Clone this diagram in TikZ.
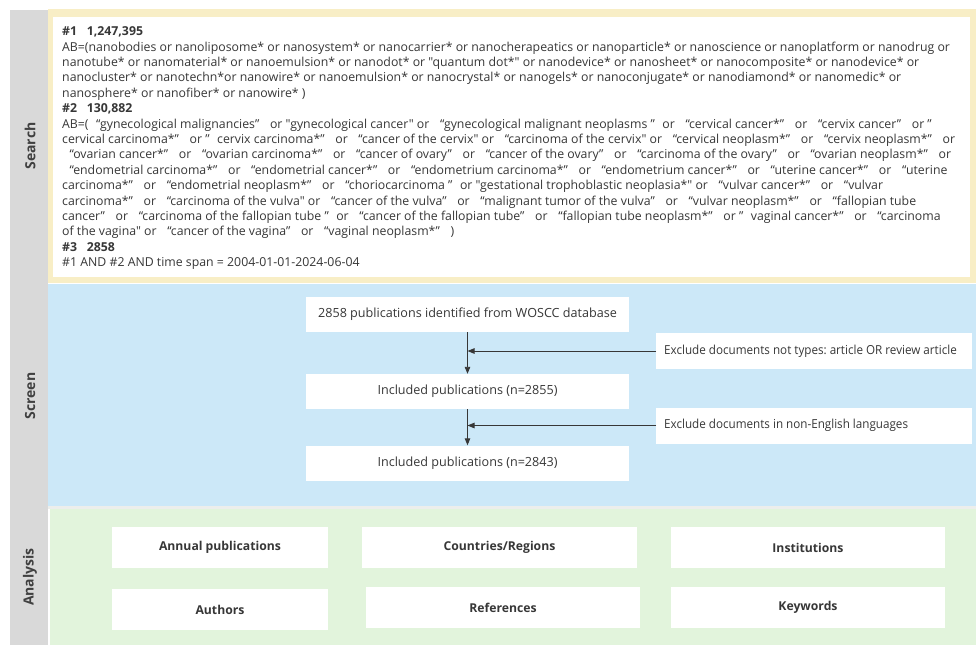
\documentclass[tikz,border=0pt]{standalone}
\usepackage{fontspec}
\setmainfont{Open Sans}[Ligatures=TeXOff]
\newfontfamily\narrowfont[FakeStretch=0.94,Ligatures=TeXOff]{Open Sans}
\usetikzlibrary{arrows.meta}
\definecolor{gstrip}{RGB}{217,217,217}
\definecolor{yel}{RGB}{248,238,198}
\definecolor{blu}{RGB}{204,232,248}
\definecolor{grn}{RGB}{226,244,220}
\definecolor{txt}{RGB}{55,55,55}
\definecolor{lbltxt}{RGB}{64,64,64}
\definecolor{sepc}{RGB}{236,238,236}
\catcode`“=\active
\catcode`”=\active
\def“{\hspace{4.3pt}\char"201C\relax}
\def”{\char"201D\hspace{4.3pt}}
\frenchspacing
\begin{document}
\frenchspacing
\begin{tikzpicture}[x=1pt,y=-1pt,
  every node/.style={text=txt},
  lbl/.style={rotate=90,font=\bfseries\fontsize{14}{16}\selectfont,text=lbltxt},
  sbox/.style={fill=white,minimum width=323,minimum height=35,inner sep=0,font=\fontsize{12.6}{15}\selectfont},
  ebox/.style={fill=white,minimum width=316,inner xsep=8,minimum height=36,font=\narrowfont\fontsize{12.4}{15}\selectfont},
  abox/.style={fill=white,minimum height=41,inner sep=0,font=\bfseries\fontsize{12.2}{15}\selectfont},
  conn/.style={draw=txt,line width=0.9pt,-{Triangle[length=7pt,width=5.5pt]}},
  searchtxt/.style={align=left,inner sep=0,anchor=north west,font=\fontsize{12.3}{15.4}\selectfont}
]
\useasboundingbox (0,0) rectangle (976,645);
\fill[white] (0,0) rectangle (976,645);
\fill[gstrip] (10,10) rectangle (48,645);
\fill[yel] (48,9) rectangle (976,283);
\fill[white] (53,17) rectangle (970,277);
\fill[blu] (48,284) rectangle (976,506);
\fill[sepc] (48,506) rectangle (976,509);
\fill[grn] (50,509) rectangle (976,645);

\node[lbl] (lsearch) at (30,146) {Search};
\node[lbl] (lscreen) at (30,396) {Screen};
\node[lbl] (lanalysis) at (30,577) {Analysis};

\node[searchtxt] (stext) at (62,26.5) {%
\textbf{\#1~~~1,247,395}\\
AB=(nanobodies or nanoliposome* or nanosystem* or nanocarrier* or nanocherapeatics or nanoparticle* or nanoscience or nanoplatform or nanodrug or\\
nanotube* or nanomaterial* or nanoemulsion* or nanodot* or "quantum dot*" or nanodevice* or nanosheet* or nanocomposite* or nanodevice* or\\
nanocluster* or nanotechn*or nanowire* or nanoemulsion* or nanocrystal* or nanogels* or nanoconjugate* or nanodiamond* or nanomedic* or\\
nanosphere* or nanofiber* or nanowire* )\\
\textbf{\#2~~~130,882}\\
AB=( “gynecological malignancies”~ or "gynecological cancer" or~ “gynecological malignant neoplasms ” or~ “cervical cancer*”~ or~ “cervix cancer”~ or ”\\
cervical carcinoma*”~ or ” cervix carcinoma*”~ or~ “cancer of the cervix" or~ “carcinoma of the cervix" or~ “cervical neoplasm*”~ or~ “cervix neoplasm*”~ or\\
~“ovarian cancer*”~ or~ “ovarian carcinoma*”~ or~ “cancer of ovary”~ or~ “cancer of the ovary”~ or~ “carcinoma of the ovary”~ or~ “ovarian neoplasm*”~ or\\
~“endometrial carcinoma*”~ or~ “endometrial cancer*”~ or~ “endometrium carcinoma*”~ or~ “endometrium cancer*”~ or~ “uterine cancer*”~ or~ “uterine\\
carcinoma*”~ or~ “endometrial neoplasm*”~ or~ “choriocarcinoma ” or "gestational trophoblastic neoplasia*" or~ “vulvar cancer*”~ or~ “vulvar\\
carcinoma*”~ or~ “carcinoma of the vulva" or~ “cancer of the vulva”~ or~ “malignant tumor of the vulva”~ or~ “vulvar neoplasm*”~ or~ “fallopian tube\\
cancer”~ or~ “carcinoma of the fallopian tube ” or~ “cancer of the fallopian tube”~ or~ “fallopian tube neoplasm*”~ or ” vaginal cancer*”~ or~ “carcinoma\\
of the vagina" or~ “cancer of the vagina”~ or~ “vaginal neoplasm*”~ )\\
\textbf{\#3~~~2858}\\
\#1 AND \#2 AND time span = 2004-01-01-2024-06-04};

\node[sbox] (b1) at (467.5,314.5) {2858 publications identified from WOSCC database};
\node[sbox] (b2) at (467.5,391.5) {Included publications (n=2855)};
\node[sbox] (b3) at (467.5,463) {Included publications (n=2843)};
\node[ebox,anchor=west] (e1) at (656,351) {\makebox[300pt][l]{Exclude documents not types: article OR review article}};
\node[ebox,anchor=west] (e2) at (656,425.5) {\makebox[300pt][l]{Exclude documents in non-English languages}};

\draw[conn] (b1) -- (b2);
\draw[conn] (b2) -- (b3);
\draw[conn] (e1.west) -- (e1.west -| b1.south);
\draw[conn] (e2.west) -- (e2.west -| b2.south);

\node[abox,minimum width=216] (a1) at (220,547.5) {Annual publications};
\node[abox,minimum width=275] (a2) at (499.5,547.5) {Countries/Regions};
\node[abox,minimum width=274] (a3) at (808,547.5) {Institutions};
\node[abox,minimum width=216] (a4) at (220,609.5) {Authors};
\node[abox,minimum width=274] (a5) at (503,607.5) {References};
\node[abox,minimum width=274] (a6) at (808,607.5) {Keywords};
\end{tikzpicture}
\end{document}
